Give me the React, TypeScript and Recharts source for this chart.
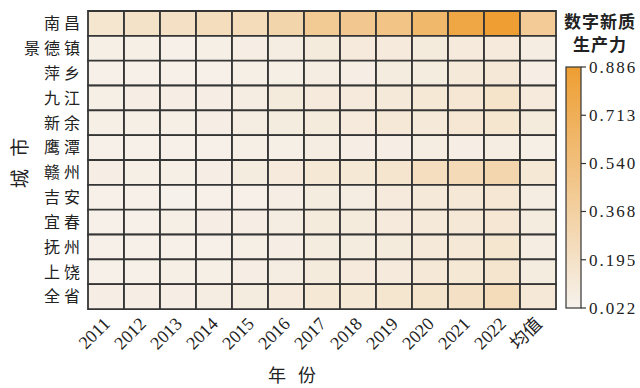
import React from "react";
import { BarChart, Bar, XAxis, YAxis, Cell } from "recharts";

const CITIES = ["南昌", "景德镇", "萍乡", "九江", "新余", "鹰潭", "赣州", "吉安", "宜春", "抚州", "上饶", "全省"];
const YEARS = ["2011", "2012", "2013", "2014", "2015", "2016", "2017", "2018", "2019", "2020", "2021", "2022", "均值"];

// one row per city, columns follow YEARS (last one is the mean)
const NANCHANG = [0.15, 0.19, 0.21, 0.24, 0.25, 0.32, 0.43, 0.45, 0.5, 0.62, 0.8, 0.886, 0.42];
const JINGDEZHEN = [0.05, 0.05, 0.04, 0.05, 0.06, 0.07, 0.09, 0.1, 0.1, 0.09, 0.1, 0.1, 0.07];
const PINGXIANG = [0.04, 0.04, 0.04, 0.04, 0.05, 0.05, 0.07, 0.06, 0.08, 0.08, 0.11, 0.12, 0.06];
const JIUJIANG = [0.05, 0.06, 0.06, 0.06, 0.07, 0.09, 0.1, 0.1, 0.11, 0.13, 0.14, 0.18, 0.1];
const XINYU = [0.05, 0.05, 0.05, 0.06, 0.07, 0.08, 0.09, 0.1, 0.12, 0.11, 0.14, 0.15, 0.09];
const YINGTAN = [0.04, 0.04, 0.04, 0.04, 0.05, 0.05, 0.07, 0.06, 0.06, 0.07, 0.06, 0.07, 0.05];
const GANZHOU = [0.06, 0.05, 0.05, 0.06, 0.08, 0.1, 0.13, 0.13, 0.16, 0.23, 0.27, 0.31, 0.13];
const JIAN = [0.04, 0.04, 0.03, 0.04, 0.04, 0.06, 0.08, 0.07, 0.1, 0.11, 0.12, 0.14, 0.07];
const YICHUN = [0.04, 0.04, 0.05, 0.06, 0.06, 0.07, 0.09, 0.09, 0.1, 0.11, 0.12, 0.14, 0.08];
const FUZHOU = [0.04, 0.04, 0.04, 0.04, 0.05, 0.06, 0.08, 0.08, 0.09, 0.11, 0.12, 0.15, 0.07];
const SHANGRAO = [0.04, 0.04, 0.05, 0.05, 0.06, 0.07, 0.09, 0.1, 0.1, 0.12, 0.13, 0.16, 0.08];
const PROVINCE = [0.06, 0.06, 0.06, 0.07, 0.08, 0.1, 0.13, 0.13, 0.15, 0.17, 0.21, 0.25, 0.12];

const ROWS = [NANCHANG, JINGDEZHEN, PINGXIANG, JIUJIANG, XINYU, YINGTAN, GANZHOU, JIAN, YICHUN, FUZHOU, SHANGRAO, PROVINCE];

const CB_TICKS = [0.022, 0.195, 0.368, 0.54, 0.713, 0.886];
const V_MIN = 0.022;
const V_MAX = 0.886;

const LOW = [246, 242, 236];
const HIGH = [238, 158, 50];

const SERIF = "'Liberation Serif', 'Noto Sans CJK SC', serif";
const CJK = "'Noto Sans CJK SC', sans-serif";
const GRID = "#353535";

function heat(v: number) {
  const t = Math.max(0, Math.min(1, (v - V_MIN) / (V_MAX - V_MIN)));
  const c = LOW.map((l, i) => Math.round(l + (HIGH[i] - l) * t));
  return `rgb(${c[0]},${c[1]},${c[2]})`;
}

const data = CITIES.map((city, i) => ({ city, values: ROWS[i] }));

const YearTick = (props: any) => {
  const { x, y, payload } = props;
  const label = YEARS[Math.floor(payload.value)];
  const ax = x + 5;
  const ay = y + 8;
  return (
    <text
      x={ax}
      y={ay}
      transform={`rotate(-45, ${ax}, ${ay})`}
      textAnchor="end"
      fontFamily={SERIF}
      fontSize={18}
      fill="#222"
    >
      {label}
    </text>
  );
};

const CityTick = (props: any) => {
  const { x, y, payload } = props;
  return (
    <text
      x={x + 4}
      y={y}
      dy="0.36em"
      textAnchor="end"
      fontFamily={CJK}
      fontSize={16}
      letterSpacing={4}
      fill="#222"
    >
      {payload.value}
    </text>
  );
};

// colour bar geometry
const CB_X = 566;
const CB_W = 15;
const CB_TOP = 67;
const CB_BOTTOM = 308;
const cbY = (v: number) => CB_BOTTOM - ((v - V_MIN) / (V_MAX - V_MIN)) * (CB_BOTTOM - CB_TOP);

export default function App() {
  return (
    <div style={{ position: "absolute", left: 0, top: 0, width: 640, height: 388, background: "#fff" }}>
      <BarChart
        width={640}
        height={388}
        data={data}
        layout="vertical"
        barCategoryGap={0}
        barGap={0}
        margin={{ top: 11, right: 84, bottom: 0, left: 0 }}
      >
        <XAxis
          type="number"
          domain={[0, YEARS.length]}
          ticks={YEARS.map((_, j) => j + 0.5)}
          interval={0}
          height={79}
          axisLine={false}
          tickLine={false}
          tick={<YearTick />}
        />
        <YAxis
          type="category"
          dataKey="city"
          width={88}
          axisLine={false}
          tickLine={false}
          interval={0}
          tick={<CityTick />}
        />
        {YEARS.map((year, j) => (
          <Bar
            key={year}
            dataKey={() => 1}
            stackId="grid"
            stroke={GRID}
            strokeWidth={1.8}
            isAnimationActive={false}
          >
            {data.map((row) => (
              <Cell key={row.city} fill={heat(row.values[j])} />
            ))}
          </Bar>
        ))}
      </BarChart>

      <svg
        width={640}
        height={388}
        style={{ position: "absolute", left: 0, top: 0, pointerEvents: "none" }}
      >
        <defs>
          <linearGradient id="cbar" x1="0" y1="1" x2="0" y2="0">
            <stop offset="0%" stopColor={heat(V_MIN)} />
            <stop offset="100%" stopColor={heat(V_MAX)} />
          </linearGradient>
        </defs>
        <text
          x={18}
          y={161}
          transform="rotate(-90, 18, 161)"
          textAnchor="middle"
          dominantBaseline="central"
          fontFamily={CJK}
          fontSize={19}
          letterSpacing={4}
          fill="#222"
        >
          城 市
        </text>
        <text x={298} y={382} textAnchor="middle" fontFamily={CJK} fontSize={18} letterSpacing={12} fill="#222">
          年份
        </text>
        <text x={600} y={28} textAnchor="middle" fontFamily={CJK} fontSize={17} fontWeight="bold" letterSpacing={1} fill="#222">
          数字新质
        </text>
        <text x={600} y={51} textAnchor="middle" fontFamily={CJK} fontSize={17} fontWeight="bold" letterSpacing={1} fill="#222">
          生产力
        </text>
        <rect
          x={CB_X}
          y={CB_TOP}
          width={CB_W}
          height={CB_BOTTOM - CB_TOP}
          fill="url(#cbar)"
          stroke={GRID}
          strokeWidth={1.2}
        />
        {CB_TICKS.map((v) => (
          <g key={v}>
            <line x1={CB_X + CB_W} x2={CB_X + CB_W + 5} y1={cbY(v)} y2={cbY(v)} stroke={GRID} strokeWidth={1.2} />
            <text
              x={589}
              y={cbY(v)}
              dy="0.35em"
              fontFamily={SERIF}
              fontSize={17}
              letterSpacing={2}
              fill="#222"
            >
              {v.toFixed(3)}
            </text>
          </g>
        ))}
      </svg>
    </div>
  );
}
